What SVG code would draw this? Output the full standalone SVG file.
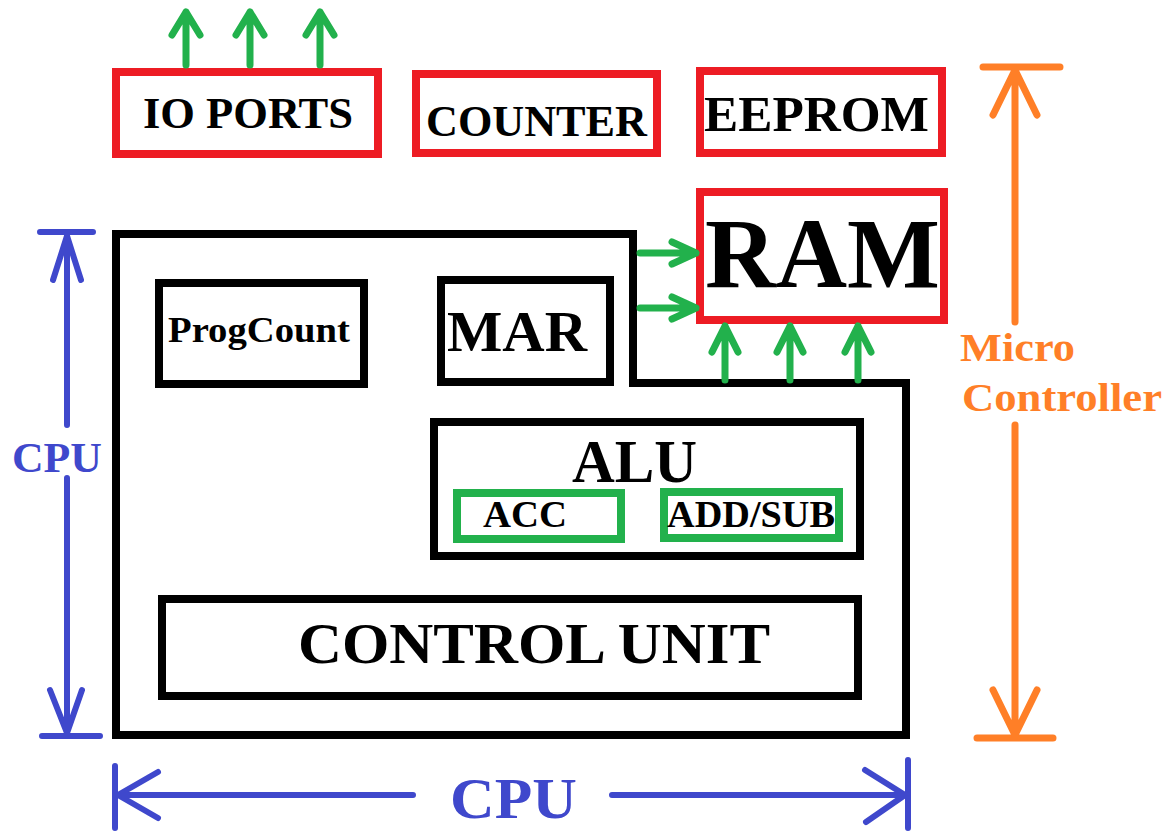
<svg xmlns="http://www.w3.org/2000/svg" width="1165" height="832" viewBox="0 0 1165 832">
<style>
  .red { fill: none; stroke: #ED1C24; stroke-width: 8; }
  .blk { fill: none; stroke: #000; stroke-width: 8; }
  .grn { fill: none; stroke: #22B14C; stroke-width: 8; }
  .t { font-family: "Liberation Serif", "Times New Roman", serif; font-weight: bold; fill: #000; }
  .ga { fill: none; stroke: #22B14C; stroke-width: 7; stroke-linecap: round; stroke-linejoin: round; }
  .ba { fill: none; stroke: #3F48CC; stroke-width: 6; stroke-linecap: round; stroke-linejoin: round; }
  .oa { fill: none; stroke: #FF7F27; stroke-width: 7; stroke-linecap: round; stroke-linejoin: round; }
</style>
<rect width="1165" height="832" fill="#fff"/>

<g id="cpu-outline">
  <path class="blk" d="M116,234 H633 V383 H906 V735 H116 Z"/>
</g>

<g id="io-ports">
  <rect class="red" x="116" y="72" width="262" height="82"/>
  <text class="t" x="143" y="128" font-size="44" textLength="210" lengthAdjust="spacingAndGlyphs">IO PORTS</text>
</g>
<g id="counter">
  <rect class="red" x="416" y="74" width="241" height="79"/>
  <text class="t" x="426" y="136" font-size="44" textLength="221" lengthAdjust="spacingAndGlyphs">COUNTER</text>
</g>
<g id="eeprom">
  <rect class="red" x="700" y="71" width="242" height="82"/>
  <text class="t" x="704" y="131" font-size="50" textLength="225" lengthAdjust="spacingAndGlyphs">EEPROM</text>
</g>
<g id="ram">
  <rect class="red" x="700" y="192" width="244" height="128"/>
  <text class="t" x="705" y="287" font-size="99" textLength="235" lengthAdjust="spacingAndGlyphs">RAM</text>
</g>
<g id="progcount">
  <rect class="blk" x="159" y="283" width="205" height="101"/>
  <text class="t" x="168" y="342" font-size="36" textLength="182" lengthAdjust="spacingAndGlyphs">ProgCount</text>
</g>
<g id="mar">
  <rect class="blk" x="441" y="280" width="169" height="102"/>
  <text class="t" x="447" y="351" font-size="56" textLength="140" lengthAdjust="spacingAndGlyphs">MAR</text>
</g>
<g id="alu">
  <rect class="blk" x="434" y="422" width="426" height="134"/>
  <text class="t" x="572" y="482" font-size="61" textLength="125" lengthAdjust="spacingAndGlyphs">ALU</text>
</g>
<g id="acc">
  <rect class="grn" x="457" y="493" width="164" height="46"/>
  <text class="t" x="483" y="527" font-size="38" textLength="84" lengthAdjust="spacingAndGlyphs">ACC</text>
</g>
<g id="addsub">
  <rect class="grn" x="664" y="492" width="175" height="46"/>
  <text class="t" x="667" y="527" font-size="38" textLength="168" lengthAdjust="spacingAndGlyphs">ADD/SUB</text>
</g>
<g id="control-unit">
  <rect class="blk" x="162" y="599" width="696" height="97"/>
  <text class="t" x="298" y="663" font-size="58" textLength="472" lengthAdjust="spacingAndGlyphs">CONTROL UNIT</text>
</g>

<g id="connectors">
  <!-- IO port outputs -->
  <path class="ga" d="M186,65 V12 M172,35 L186,12 L200,35"/>
  <path class="ga" d="M250,65 V12 M236,35 L250,12 L264,35"/>
  <path class="ga" d="M320,65 V12 M306,35 L320,12 L334,35"/>
  <!-- into RAM from side -->
  <path class="ga" d="M640,253 H696 M672,242 L696,253 L672,264"/>
  <path class="ga" d="M640,308 H696 M672,297 L696,308 L672,319"/>
  <!-- into RAM from below -->
  <path class="ga" d="M725,380 V326 M712,352 L725,326 L738,352"/>
  <path class="ga" d="M790,380 V326 M777,352 L790,326 L803,352"/>
  <path class="ga" d="M858,380 V326 M845,352 L858,326 L871,352"/>

  <!-- CPU vertical dimension -->
  <path class="ba" d="M40,232 H93 M67,234 V425 M67,478 V734 M42,736 H100 M53,280 L67,236 L81,280 M50,690 L67,733 L82,690"/>
  <!-- CPU horizontal dimension -->
  <path class="ba" d="M115,766 V828 M908,760 V828 M117,795 H413 M612,795 H905 M158,772 L118,795 L158,818 M865,770 L905,795 L866,822"/>
  <!-- Micro Controller dimension -->
  <path class="oa" d="M983,67 H1060 M1015,70 V322 M1015,425 V736 M977,738 H1053 M993,115 L1015,70 L1037,115 M993,690 L1015,735 L1037,690"/>
</g>

<g id="labels">
  <text x="12" y="472" font-family="Liberation Serif, Times New Roman, serif" font-weight="bold" font-size="42" fill="#3F48CC" textLength="90" lengthAdjust="spacingAndGlyphs">CPU</text>
  <text x="450" y="818" font-family="Liberation Serif, Times New Roman, serif" font-weight="bold" font-size="56" fill="#3F48CC" textLength="127" lengthAdjust="spacingAndGlyphs">CPU</text>
  <text x="960" y="361" font-family="Liberation Serif, Times New Roman, serif" font-weight="bold" font-size="40" fill="#FF7F27" textLength="115" lengthAdjust="spacingAndGlyphs">Micro</text>
  <text x="962" y="411" font-family="Liberation Serif, Times New Roman, serif" font-weight="bold" font-size="40" fill="#FF7F27" textLength="200" lengthAdjust="spacingAndGlyphs">Controller</text>
</g>
</svg>
